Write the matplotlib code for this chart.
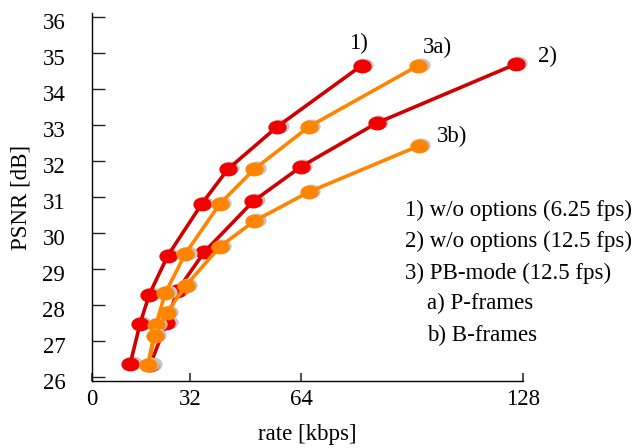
#!/usr/bin/env python3

import numpy as np
import matplotlib
matplotlib.use('Agg')
import matplotlib.pyplot as plt
from matplotlib.markers import MarkerStyle
from matplotlib.transforms import Affine2D, offset_copy, ScaledTranslation

# rate [kbps] / PSNR [dB]
rate_1 = [12.5, 15.7, 18.75, 24.7, 35.4, 42.9, 57.1, 81.4]
psnr_1 = [26.35, 27.47, 28.29, 29.36, 30.81, 31.77, 32.95, 34.65]

rate_2 = [19.0, 24.35, 27.8, 36.1, 50.2, 63.95, 85.7, 125.8]
psnr_2 = [26.33, 27.5, 28.39, 29.47, 30.88, 31.84, 33.05, 34.69]

rate_3a = [18.3, 20.9, 23.9, 30.4, 40.6, 50.5, 66.25, 97.7]
psnr_3a = [26.33, 27.44, 28.32, 29.41, 30.81, 31.77, 32.95, 34.65]

rate_3b = [18.3, 20.6, 24.4, 30.6, 40.6, 50.5, 66.25, 97.9]
psnr_3b = [26.33, 27.14, 27.78, 28.53, 29.62, 30.33, 31.14, 32.42]

x_ticks = [0, 32, 64, 128]
y_ticks = list(range(26, 37))

legend_lines = ['1) w/o options (6.25 fps)',
                '2) w/o options (12.5 fps)',
                '3) PB-mode (12.5 fps)']
legend_sub = ['a) P-frames', 'b) B-frames']

RED_LINE = '#d10000'
RED_MARK = '#f20000'
ORANGE = '#ff8500'
SHADOW = '#c4c4c4'

plt.rcParams['font.family'] = ['Liberation Serif', 'DejaVu Serif']
plt.rcParams['font.size'] = 16.5


# the axis in the original is squeezed between 0 and 32
def fwd(x):
    x = np.asarray(x, dtype=float)
    return np.where(x < 32, x * 98.3 / 32, 98.3 + (x - 32) * 3.474)


def inv(u):
    u = np.asarray(u, dtype=float)
    return np.where(u < 98.3, u * 32 / 98.3, 32 + (u - 98.3) / 3.474)


fig = plt.figure(figsize=(6.39, 4.48), dpi=100)
ax = fig.add_axes([0.1435, 0.1496, 0.8192 - 0.1435, 0.9703 - 0.1496])
ax.set_xscale('function', functions=(fwd, inv))
ax.set_xlim(0, 128)
ax.set_ylim(25.89, 36.1)

mk = MarkerStyle('o', transform=Affine2D().scale(1.35, 1.0))
shadow_tr = offset_copy(ax.transData, fig=fig, x=2.5, y=1.0, units='dots')

series = [
    (rate_1, psnr_1, RED_LINE, RED_MARK),
    (rate_2, psnr_2, RED_LINE, RED_MARK),
    (rate_3a, psnr_3a, ORANGE, ORANGE),
    (rate_3b, psnr_3b, ORANGE, ORANGE),
]
for rates, psnr, lc, mc in series:
    ax.plot(rates, psnr, linestyle='none', marker=mk, markersize=9,
            color=SHADOW, transform=shadow_tr, clip_on=False)
    ax.plot(rates, psnr, color=lc, linewidth=2.6, marker=mk, markersize=9,
            markerfacecolor=mc, markeredgecolor=mc, clip_on=False)

# curve tags
ax.text(80.4, 35.25, '1)', ha='center', va='center')
ax.text(103.1, 35.14, '3a)', ha='center', va='center')
ax.text(134.8, 34.89, '2)', ha='center', va='center', clip_on=False)
ax.text(107.4, 32.69, '3b)', ha='center', va='center')

ys = [0.531, 0.4605, 0.3906]
for txt, y in zip(legend_lines, ys):
    fig.text(0.634, y, txt, ha='left', va='center')
for txt, y in zip(legend_sub, [0.3237, 0.2522]):
    fig.text(0.668, y, txt, ha='left', va='center')

ax.spines['top'].set_visible(False)
ax.spines['right'].set_visible(False)
ax.spines['left'].set_linewidth(1.0)
ax.spines['bottom'].set_linewidth(1.0)

ax.set_xticks(x_ticks)
ax.set_xticklabels([str(t) for t in x_ticks])
ax.set_yticks(y_ticks)
ax.set_yticklabels([str(t) for t in y_ticks])
ax.minorticks_off()
ax.tick_params(axis='y', direction='in', length=9, width=1.0, pad=19, color='#222222')
ax.tick_params(axis='x', direction='in', length=6, width=1.5, pad=6, color='#555555')

# y labels in the original sit a little below their ticks
shift = ScaledTranslation(0, -0.04, fig.dpi_scale_trans)
for lab in ax.get_yticklabels():
    lab.set_transform(lab.get_transform() + shift)

ax.set_xlabel('rate [kbps]', labelpad=10)
ax.set_ylabel('PSNR [dB]', labelpad=8)

fig.savefig('out.png', dpi=100)
